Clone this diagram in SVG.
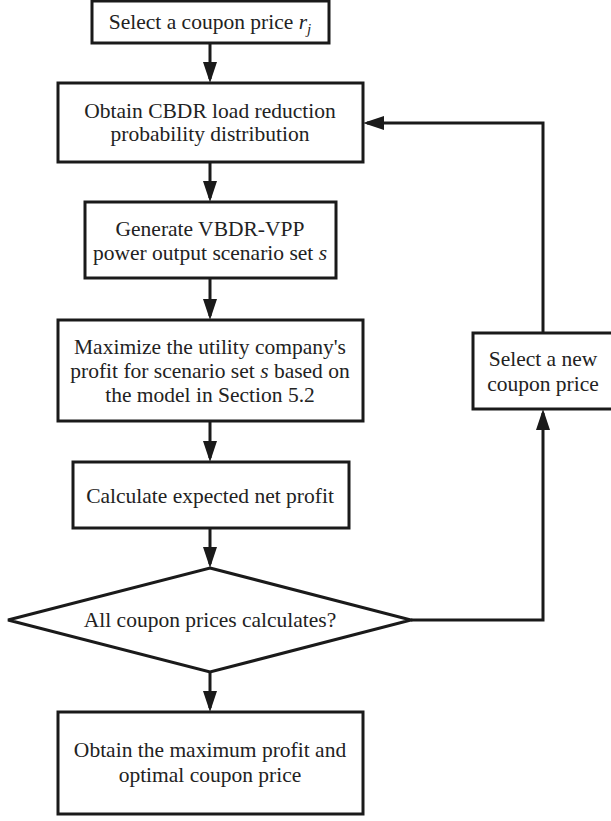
<svg xmlns="http://www.w3.org/2000/svg" width="611" height="821" viewBox="0 0 611 821">
<style>
.box{fill:#fff;stroke:#1a1a1a;stroke-width:3}
.t{font-family:"Liberation Serif","Times New Roman",serif;font-size:21.5px;fill:#222;text-anchor:middle}
.i{font-style:italic}
.c{fill:none;stroke:#1a1a1a;stroke-width:3}
</style>
<defs>
<marker id="ah" markerUnits="userSpaceOnUse" viewBox="0 0 21 14" refX="17" refY="7" markerWidth="21" markerHeight="14" orient="auto">
<path d="M0,0 L21,7 L0,14 Z" fill="#1a1a1a"/>
</marker>
</defs>
<rect width="611" height="821" fill="#fff"/>
<g id="connectors">
<path class="c" d="M210,43 V79" marker-end="url(#ah)"/>
<path class="c" d="M210,162 V198" marker-end="url(#ah)"/>
<path class="c" d="M210,278 V316" marker-end="url(#ah)"/>
<path class="c" d="M210,421 V458" marker-end="url(#ah)"/>
<path class="c" d="M210,528 V564" marker-end="url(#ah)"/>
<path class="c" d="M210,672 V708" marker-end="url(#ah)"/>
<path class="c" d="M411,620 H543 V413" marker-end="url(#ah)"/>
<path class="c" d="M543,333 V123 H367" marker-end="url(#ah)"/>
</g>
<g id="n1">
<rect class="box" x="92" y="1" width="237" height="42"/>
<text class="t" x="210" y="29">Select a coupon price <tspan class="i">r</tspan><tspan class="i" font-size="15" dy="5">j</tspan></text>
</g>
<g id="n2">
<rect class="box" x="58" y="83" width="305" height="79"/>
<text class="t" x="210" y="118">Obtain CBDR load reduction</text>
<text class="t" x="210" y="141">probability distribution</text>
</g>
<g id="n3">
<rect class="box" x="85" y="202" width="251" height="76"/>
<text class="t" x="210" y="236">Generate VBDR-VPP</text>
<text class="t" x="210" y="260">power output scenario set <tspan class="i">s</tspan></text>
</g>
<g id="n4">
<rect class="box" x="58" y="320" width="305" height="101"/>
<text class="t" x="210" y="354">Maximize the utility company's</text>
<text class="t" x="210" y="378">profit for scenario set <tspan class="i">s</tspan> based on</text>
<text class="t" x="210" y="402">the model in Section 5.2</text>
</g>
<g id="n5">
<rect class="box" x="73" y="462" width="276" height="66"/>
<text class="t" x="210" y="503">Calculate expected net profit</text>
</g>
<g id="n6">
<polygon class="box" points="210,568 411,620 210,672 8,620"/>
<text class="t" x="210" y="627">All coupon prices calculates?</text>
</g>
<g id="n7">
<rect class="box" x="58" y="712" width="305" height="102"/>
<text class="t" x="210" y="757">Obtain the maximum profit and</text>
<text class="t" x="210" y="782">optimal coupon price</text>
</g>
<g id="n8">
<rect class="box" x="473" y="333" width="140" height="76"/>
<text class="t" x="543" y="366">Select a new</text>
<text class="t" x="543" y="391">coupon price</text>
</g>
</svg>
